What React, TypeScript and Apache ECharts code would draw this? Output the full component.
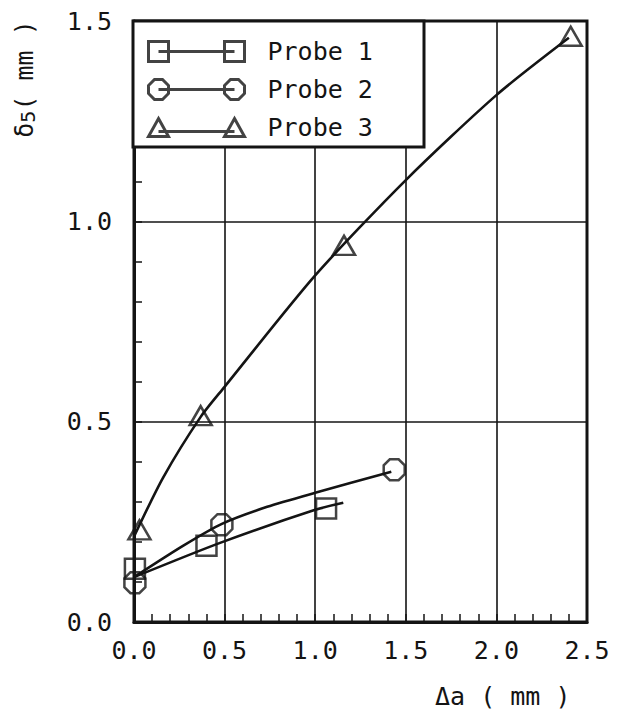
import React, { useEffect, useRef } from 'react';
import * as echarts from 'echarts';

const probeNames = ['Probe 1', 'Probe 2', 'Probe 3'];

// measured points [Δa (mm), δ5 (mm)]
const probe1Points = [[0.005, 0.133], [0.4, 0.19], [1.06, 0.283]];
const probe2Points = [[0.005, 0.098], [0.485, 0.243], [1.436, 0.38]];
const probe3Points = [[0.03, 0.23], [0.368, 0.515], [1.159, 0.94], [2.41, 1.462]];

// fitted curves
const probe1Curve = [[0.0, 0.112], [0.475, 0.1975], [1.0, 0.28], [1.155, 0.2975]];
const probe2Curve = [[0.0, 0.112], [0.27, 0.19], [0.485, 0.245], [0.735, 0.2875], [1.0, 0.3225], [1.42, 0.375]];
const probe3Curve = [[0.005, 0.218], [0.16, 0.36], [0.368, 0.512], [0.5, 0.587], [1.0, 0.865], [1.5, 1.103], [2.0, 1.315], [2.4, 1.458]];

const xMin = 0, xMax = 2.5, xStep = 0.5;
const yMin = 0, yMax = 1.5, yStep = 0.5;

const FONT = '"DejaVu Sans Mono", "Liberation Mono", monospace';
const INK = '#141414';

const octagon = 'path://M29 0H71L100 29V71L71 100H29L0 71V29Z';
const markerSymbols = ['rect', octagon, 'triangle'];
const markerSizes: any[] = [20, 21, [22, 19]];
const legendIcons = [
  'path://M0 0H20V20H0Z M10 10H86 M76 0H96V20H76Z',
  'path://M6 0H14L20 6V14L14 20H6L0 14V6Z M10 10H86 M82 0H90L96 6V14L90 20H82L76 14V6Z',
  'path://M10 0L20 18H0Z M10 13H86 M86 0L96 18H76Z',
];

export default function App() {
  const ref = useRef<HTMLDivElement>(null);
  useEffect(() => {
    if (!ref.current) return;
    const chart = echarts.init(ref.current, null, { renderer: 'svg' });
    const points = [probe1Points, probe2Points, probe3Points];
    const curves = [probe1Curve, probe2Curve, probe3Curve];
    const series: any[] = [];
    curves.forEach((c, i) => {
      series.push({
        name: probeNames[i] + ' curve',
        type: 'line',
        data: c,
        symbol: 'none',
        smooth: 0.25,
        lineStyle: { color: INK, width: 2.6 },
        z: 2,
      });
    });
    points.forEach((p, i) => {
      series.push({
        name: probeNames[i],
        type: 'scatter',
        data: p,
        symbol: markerSymbols[i],
        symbolSize: markerSizes[i],
        itemStyle: { color: 'transparent', borderColor: INK, borderWidth: 2.5 },
        z: 3,
      });
    });
    chart.setOption({
      animation: false,
      backgroundColor: '#fff',
      grid: {
        left: 134, right: 44, top: 21, bottom: 90,
        containLabel: false,
        outerBoundsMode: 'none',
        show: true,
        borderColor: INK,
        borderWidth: 3,
      },
      xAxis: {
        type: 'value',
        min: xMin, max: xMax, interval: xStep,
        axisLine: { show: true, lineStyle: { color: INK, width: 3 } },
        axisTick: { show: true, inside: true, length: 8, lineStyle: { color: INK, width: 1.5 } },
        minorTick: { show: true, splitNumber: 5, length: 8, lineStyle: { color: INK, width: 1.5 } },
        splitLine: { show: true, lineStyle: { color: INK, width: 1.6 } },
        axisLabel: {
          margin: 16,
          fontFamily: FONT, fontSize: 25, color: INK,
          formatter: (v: number) => v.toFixed(1),
        },
      },
      yAxis: {
        type: 'value',
        min: yMin, max: yMax, interval: yStep,
        axisLine: { show: true, lineStyle: { color: INK, width: 3 } },
        axisTick: { show: true, inside: true, length: 8, lineStyle: { color: INK, width: 1.5 } },
        minorTick: { show: true, splitNumber: 5, length: 8, lineStyle: { color: INK, width: 1.5 } },
        splitLine: { show: true, lineStyle: { color: INK, width: 1.6 } },
        axisLabel: {
          margin: 22,
          fontFamily: FONT, fontSize: 25, color: INK,
          formatter: (v: number) => v.toFixed(1),
        },
      },
      legend: {
        show: true,
        left: 142, top: 34,
        orient: 'vertical',
        itemWidth: 96, itemHeight: 20, itemGap: 13,
        selectedMode: false,
        data: probeNames.map((n, i) => ({ name: n, icon: legendIcons[i] })),
        itemStyle: { color: 'transparent', borderColor: INK, borderWidth: 3 },
        textStyle: { fontFamily: FONT, fontSize: 25, color: INK, padding: [0, 0, 0, 18] },
        z: 10,
      },
      graphic: [
        {
          type: 'rect', z: 5,
          shape: { x: 133, y: 21, width: 291, height: 126 },
          style: { fill: '#fff', stroke: INK, lineWidth: 3 },
        },
        {
          type: 'text', z: 5, x: 435, y: 696,
          style: { text: 'Δa ( mm )', font: '25px ' + FONT, fill: INK, verticalAlign: 'middle', align: 'left' },
        },
        {
          type: 'text', z: 5, x: 24, y: 79, rotation: Math.PI / 2,
          style: {
            text: '{n|δ}{s|5}{n|( mm )}',
            align: 'center', verticalAlign: 'middle',
            fill: INK,
            rich: {
              n: { fontFamily: FONT, fontSize: 25, lineHeight: 28, fill: INK },
              s: { fontFamily: FONT, fontSize: 20, lineHeight: 22, verticalAlign: 'bottom', fill: INK },
            },
          },
        },
      ],
      series,
    });
    return () => chart.dispose();
  }, []);
  return <div ref={ref} style={{ position: 'absolute', left: 0, top: 0, width: 631, height: 712, background: '#fff' }} />;
}
